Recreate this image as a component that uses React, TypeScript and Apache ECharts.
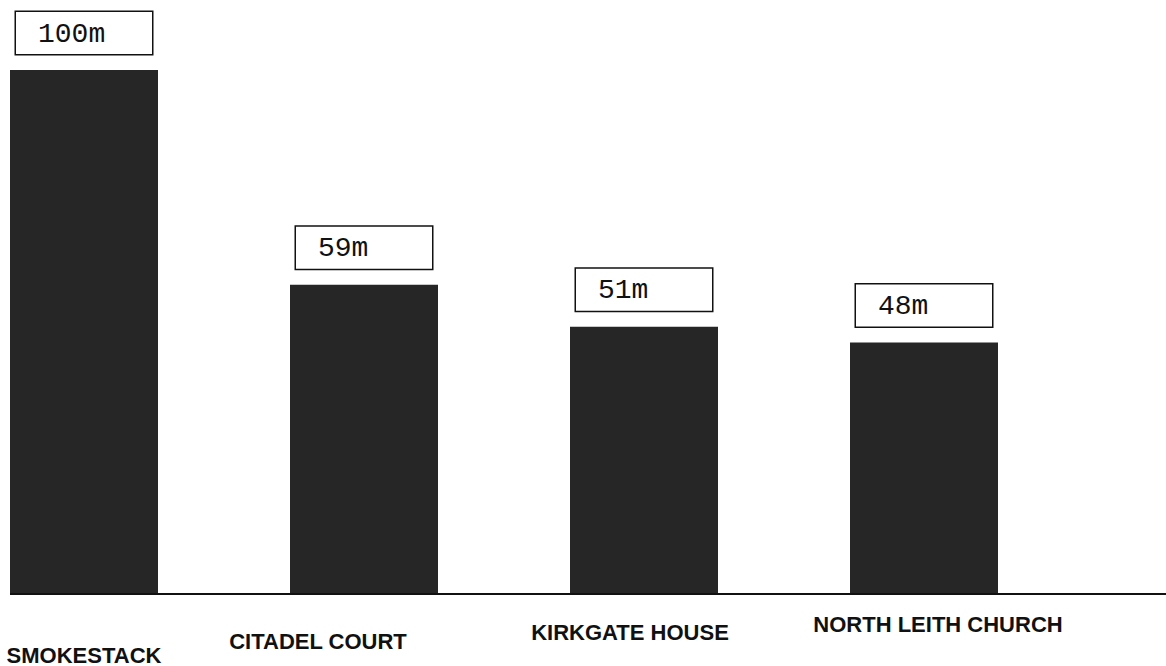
import React, { useEffect, useRef } from "react";
import * as echarts from "echarts";

const categories = ["SMOKESTACK", "CITADEL COURT", "KIRKGATE HOUSE", "NORTH LEITH CHURCH"];
const heights = [100, 59, 51, 48];
const unit = "m";

// layout-only tweaks for category labels (the scan is skewed): [dx, padTop]
const labelShift: [number, number][] = [
  [0, 34],
  [-46, 20],
  [-14, 11],
  [14, 3],
];

export default function App() {
  const ref = useRef<HTMLDivElement>(null);
  useEffect(() => {
    document.body.style.margin = "0";
    if (!ref.current) return;
    const chart = echarts.init(ref.current, undefined, { renderer: "svg", width: 1166, height: 666 });
    const rich: Record<string, any> = {};
    labelShift.forEach(([dx, top], i) => {
      rich["c" + i] = {
        fontFamily: "Liberation Sans, Arial, sans-serif",
        fontWeight: "bold",
        fontSize: 22,
        color: "#111",
        padding: [top, dx < 0 ? -dx * 2 : 0, 0, dx > 0 ? dx * 2 : 0],
      };
    });
    chart.setOption({
      animation: false,
      backgroundColor: "#ffffff",
      grid: { left: 84, right: 242, top: 70, bottom: 72, containLabel: false },
      xAxis: {
        type: "category",
        data: categories,
        boundaryGap: false,
        axisLine: { show: false },
        axisTick: { show: false },
        axisLabel: {
          margin: 16,
          interval: 0,
          formatter: (v: string, i: number) => `{c${i}|${v}}`,
          rich,
        },
        splitLine: { show: false },
      },
      yAxis: {
        type: "value",
        min: 0,
        max: 100,
        show: false,
      },
      series: [
        {
          type: "bar",
          data: heights,
          barWidth: 148,
          itemStyle: { color: "#262626" },
          label: {
            show: true,
            position: "top",
            distance: 16,
            formatter: (p: any) => `{v|${p.value}${unit}}`,
            backgroundColor: "#ffffff",
            borderColor: "#111",
            borderWidth: 1.5,
            padding: [8, 8, 6, 22],
            rich: {
              v: {
                fontFamily: "Liberation Mono, Courier New, monospace",
                fontSize: 28,
                color: "#111",
                width: 106,
                align: "left",
              },
            },
          },
        },
      ],
    });
    const y0 = chart.convertToPixel({ yAxisIndex: 0 }, 0) as number;
    chart.setOption({
      graphic: [
        {
          type: "line",
          shape: { x1: 10, y1: y0, x2: 1166, y2: y0 },
          style: { stroke: "#111", lineWidth: 2 },
          z: 10,
        },
      ],
    });
    return () => chart.dispose();
  }, []);
  return <div ref={ref} style={{ width: 1166, height: 666 }} />;
}
